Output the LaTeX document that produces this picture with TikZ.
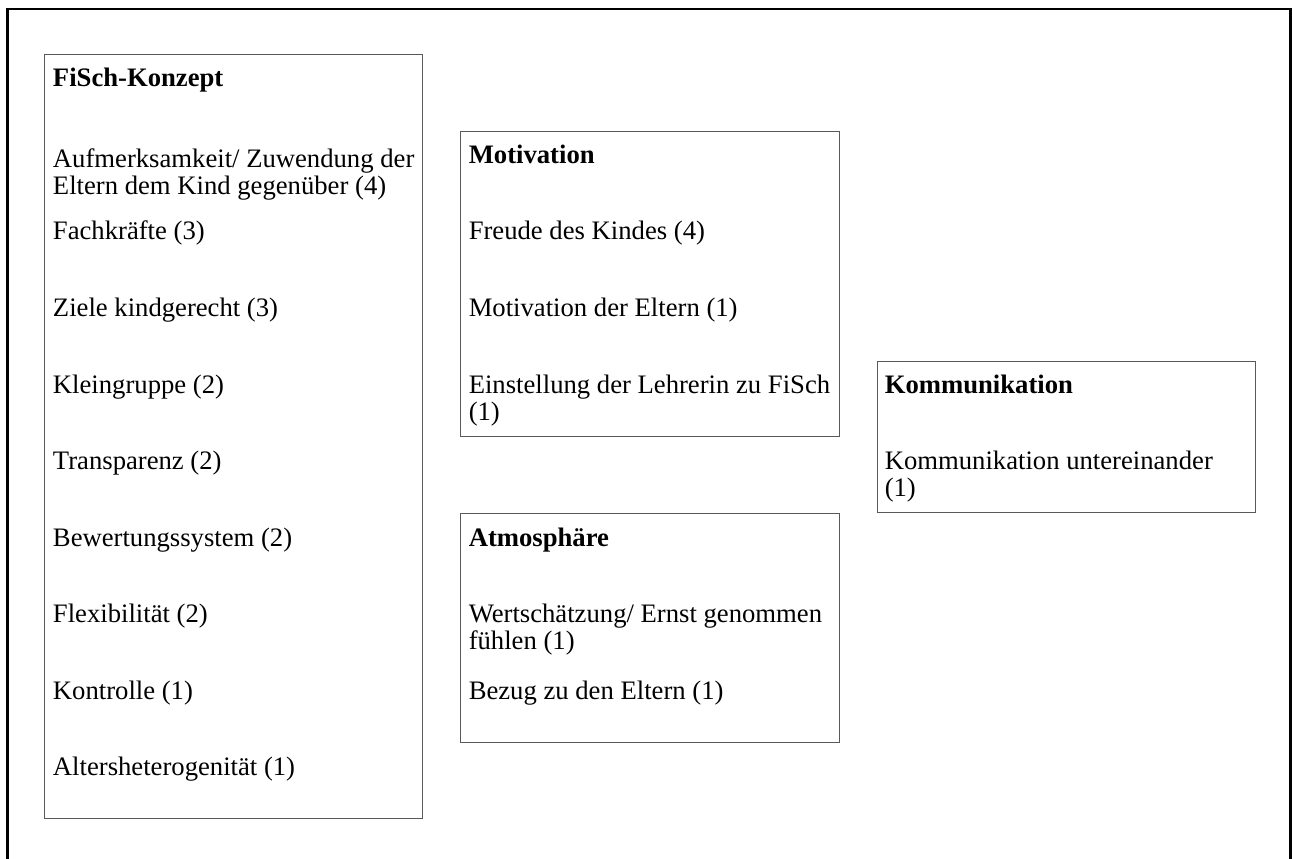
\documentclass[tikz,border=0pt]{standalone}
\usepackage{fontspec}
\setmainfont{Liberation Serif}
\usepackage{tikz}

\begin{document}
\begin{tikzpicture}[x=0.75pt,y=-0.75pt,
    box/.style={draw=gray!70!black,line width=0.75pt},
    entry/.style={anchor=base west,inner sep=0pt,align=left,font=\fontsize{20}{20.25}\selectfont},
    heading/.style={entry,font=\fontsize{20}{20.25}\selectfont\bfseries}]
\useasboundingbox (0,0) rectangle (1292,859);
\draw[line width=2pt] (7.5,859) -- (7.5,9) -- (1290.5,9) -- (1290.5,859);

\draw[box] (44.7,55) rectangle (422,818);
\draw[box] (460.7,132) rectangle (839,436);
\draw[box] (460.7,513) rectangle (839,742);
\draw[box] (877,361) rectangle (1255,512);

% two-line entries are placed by the baseline of their last line
\node[heading] (fisch) at (52.7,87) {FiSch-Konzept};
\node[entry] (fisch0) at (52.7,195) {Aufmerksamkeit/ Zuwendung der\\Eltern dem Kind gegenüber (4)};
\foreach \txt [count=\i] in {Fachkräfte (3),Ziele kindgerecht (3),Kleingruppe (2),Transparenz (2),
    Bewertungssystem (2),Flexibilität (2),Kontrolle (1),Altersheterogenität (1)}
    \node[entry] (fisch\i) at (52.7,{163.5+76.5*\i}) {\txt};

\node[heading] (motiv) at (468.5,163.5) {Motivation};
\node[entry] (motiv1) at (468.5,240) {Freude des Kindes (4)};
\node[entry] (motiv2) at (468.5,316.5) {Motivation der Eltern (1)};
\node[entry] (motiv3) at (468.5,420) {Einstellung der Lehrerin zu FiSch\\(1)};

\node[heading] (atmo) at (468.5,546) {Atmosphäre};
\node[entry] (atmo1) at (468.5,649.5) {Wertschätzung/ Ernst genommen\\fühlen (1)};
\node[entry] (atmo2) at (468.5,699) {Bezug zu den Eltern (1)};

\node[heading] (komm) at (884.5,393) {Kommunikation};
\node[entry] (komm1) at (884.5,496.5) {Kommunikation untereinander\\(1)};
\end{tikzpicture}
\end{document}
